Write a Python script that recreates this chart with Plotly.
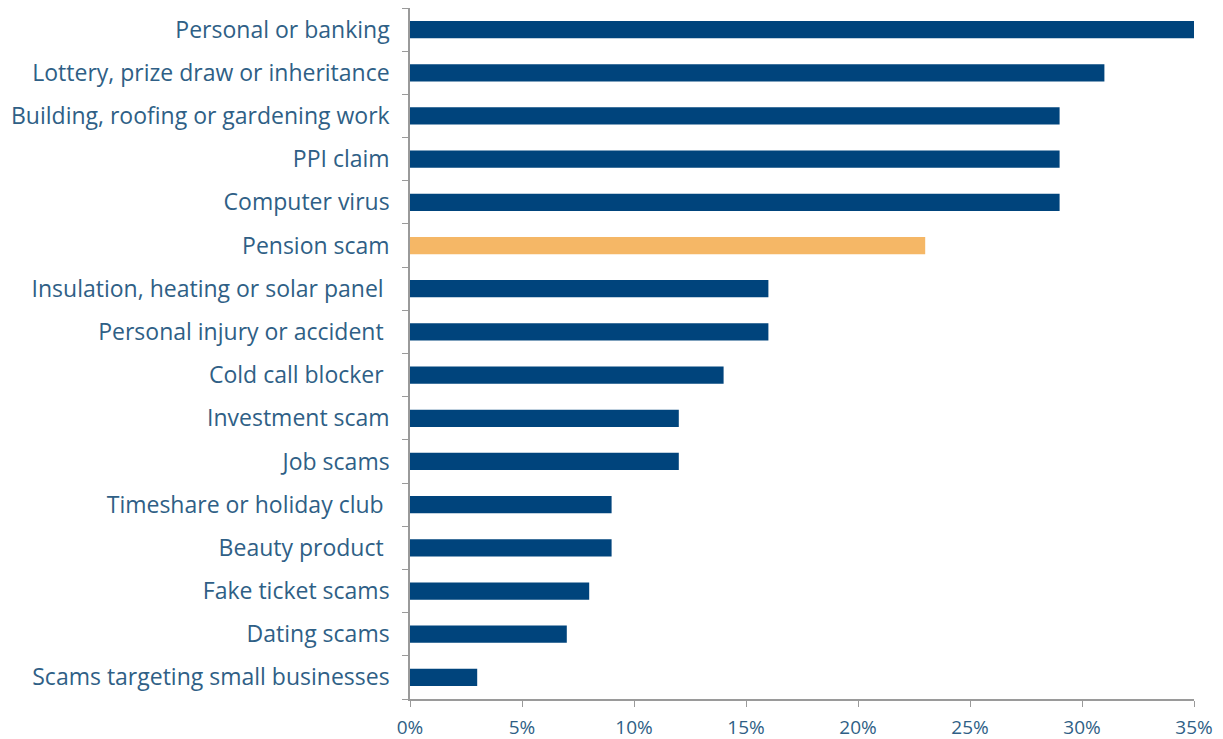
import plotly.graph_objects as go

## Data (top to bottom as shown)
categories = [
    "Personal or banking",
    "Lottery, prize draw or inheritance",
    "Building, roofing or gardening work",
    "PPI claim",
    "Computer virus",
    "Pension scam",
    "Insulation, heating or solar panel\u00a0",
    "Personal injury or accident\u00a0",
    "Cold call blocker\u00a0",
    "Investment scam",
    "Job scams",
    "Timeshare or holiday club\u00a0",
    "Beauty product\u00a0",
    "Fake ticket scams",
    "Dating scams",
    "Scams targeting small businesses",
]
values = [35, 31, 29, 29, 29, 23, 16, 16, 14, 12, 12, 9, 9, 8, 7, 3]
highlight = "Pension scam"

tick_vals = [0, 5, 10, 15, 20, 25, 30, 35]
tick_text = ["0%", "5%", "10%", "15%", "20%", "25%", "30%", "35%"]

blue = "#00447c"
orange = "#f5b766"
colors = [orange if c == highlight else blue for c in categories]

fig = go.Figure(go.Bar(
    x=values,
    y=categories,
    orientation="h",
    marker_color=colors,
    marker_line_width=0,
    width=0.4,
))

# page body has an 8px margin, so size the figure to fit the window
fig.update_layout(
    width=1215, height=731,
    margin=dict(l=402, r=29, t=0, b=40),
    plot_bgcolor="white", paper_bgcolor="white",
    font=dict(family="Open Sans", color="#2f5f86"),
    showlegend=False,
)
fig.update_xaxes(
    range=[0, 35], automargin=False,
    tickvals=tick_vals, ticktext=tick_text,
    showgrid=False, zeroline=False,
    showline=True, linecolor="#9a9a9a", linewidth=1.5,
    ticks="outside", ticklen=6, tickcolor="#9a9a9a",
    ticklabelstandoff=4,
    tickfont=dict(size=19, color="#2f5f86"),
)
fig.update_yaxes(
    categoryorder="array", categoryarray=categories[::-1],
    automargin=False,
    showgrid=False,
    showline=True, linecolor="#9a9a9a", linewidth=1.5,
    ticks="outside", ticklen=6, tickcolor="#9a9a9a",
    tickson="boundaries",
    ticklabelstandoff=14,
    tickfont=dict(size=23, color="#2f5f86"),
)

fig.write_html("out.html")
